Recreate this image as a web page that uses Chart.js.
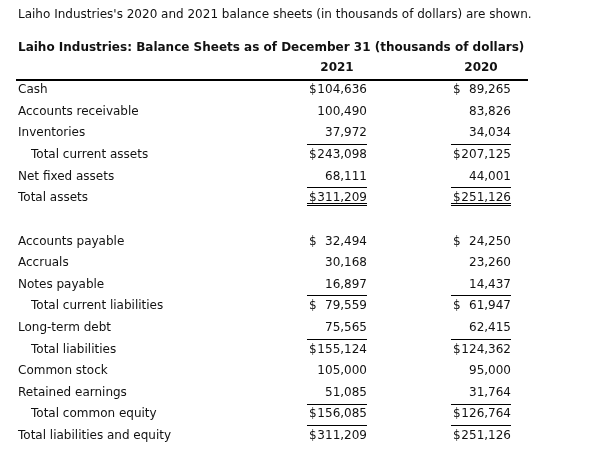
<!DOCTYPE html>
<html>
<head>
<meta charset="utf-8">
<script src="https://cdn.jsdelivr.net/npm/chart.js@4/dist/chart.umd.min.js"></script>
<style>
  html, body { margin: 0; padding: 0; background: #fff; }
  #wrap { width: 602px; height: 455px; }
</style>
</head>
<body>
<div id="wrap"><canvas id="sheet" width="602" height="455"></canvas></div>
<script>
'use strict';

/* ---------- data ---------- */
const introText = "Laiho Industries's 2020 and 2021 balance sheets (in thousands of dollars) are shown.";
const tableTitle = 'Laiho Industries: Balance Sheets as of December 31 (thousands of dollars)';
const years = ['2021', '2020'];
const rowLabels = [
  'Cash', 'Accounts receivable', 'Inventories', 'Total current assets', 'Net fixed assets', 'Total assets',
  '',
  'Accounts payable', 'Accruals', 'Notes payable', 'Total current liabilities', 'Long-term debt',
  'Total liabilities', 'Common stock', 'Retained earnings', 'Total common equity', 'Total liabilities and equity'
];
const values2021 = [104636, 100490, 37972, 243098, 68111, 311209, null,
  32494, 30168, 16897, 79559, 75565, 155124, 105000, 51085, 156085, 311209];
const values2020 = [89265, 83826, 34034, 207125, 44001, 251126, null,
  24250, 23260, 14437, 61947, 62415, 124362, 95000, 31764, 126764, 251126];
const subtotalRows = ['Total current assets', 'Total current liabilities', 'Total liabilities', 'Total common equity'];
const dollarRows = ['Cash', 'Total current assets', 'Total assets', 'Accounts payable',
  'Total current liabilities', 'Total liabilities', 'Total common equity', 'Total liabilities and equity'];
const ruleAboveRows = ['Total current assets', 'Total assets', 'Total current liabilities',
  'Total liabilities', 'Total common equity', 'Total liabilities and equity'];
const doubleRuleRows = ['Total assets'];

/* ---------- drawing ---------- */
const FONT = '"DejaVu Sans", Verdana, sans-serif';
const INK = '#111';
const CELL_W = 60;

const tablePlugin = {
  id: 'balanceTable',
  afterDatasetsDraw(chart) {
    const ctx = chart.ctx;
    const xs = chart.scales.x, ys = chart.scales.y;
    const area = chart.chartArea;
    ctx.save();
    ctx.fillStyle = INK;
    ctx.strokeStyle = '#000';
    ctx.textBaseline = 'middle';

    ctx.font = '12px ' + FONT;
    ctx.textAlign = 'left';
    ctx.fillText(introText, 18, 15);

    ctx.font = 'bold 12px ' + FONT;
    ctx.fillText(tableTitle, 18, 48);

    // column headers
    ctx.textAlign = 'center';
    years.forEach((yr, j) => {
      const right = xs.getPixelForValue(j + 1);
      ctx.fillText(yr, right - CELL_W / 2, 68);
    });
    ctx.lineWidth = 2;
    ctx.beginPath();
    ctx.moveTo(area.left, 80); ctx.lineTo(area.right, 80);
    ctx.stroke();

    // row labels
    ctx.font = '12px ' + FONT;
    ctx.textAlign = 'left';
    rowLabels.forEach((lab, i) => {
      if (!lab) return;
      const x = subtotalRows.includes(lab) ? 31 : 18;
      ctx.fillText(lab, x, ys.getPixelForValue(i));
    });

    // cells
    ctx.lineWidth = 1;
    chart.data.datasets.forEach((ds, j) => {
      const meta = chart.getDatasetMeta(j);
      meta.data.forEach((el, i) => {
        const v = ds.data[i].v;
        if (v == null) return;
        const lab = rowLabels[i];
        const right = el.x, left = el.x - CELL_W;
        ctx.textAlign = 'right';
        ctx.fillText(v.toLocaleString('en-US'), right, el.y);
        if (dollarRows.includes(lab)) {
          ctx.textAlign = 'left';
          ctx.fillText('$', left + 2, el.y);
        }
        if (ruleAboveRows.includes(lab)) {
          const ry = Math.round((ys.getPixelForValue(i - 1) + el.y) / 2) + 0.5;
          ctx.beginPath(); ctx.moveTo(left, ry); ctx.lineTo(right, ry); ctx.stroke();
        }
        if (doubleRuleRows.includes(lab)) {
          [5, 7].forEach(d => {
            const ry = Math.round(el.y + d) + 0.5;
            ctx.beginPath(); ctx.moveTo(left, ry); ctx.lineTo(right, ry); ctx.stroke();
          });
        }
      });
    });
    ctx.restore();
  }
};

new Chart(document.getElementById('sheet'), {
  type: 'scatter',
  data: {
    datasets: [values2021, values2020].map((vals, j) => ({
      label: years[j],
      data: vals.map((v, i) => ({ x: j + 1, y: i, v: v })),
      pointRadius: 0,
      showLine: false
    }))
  },
  options: {
    responsive: false,
    animation: false,
    events: [],
    layout: { padding: { left: 16, right: 74, top: 79.2, bottom: 8.2 } },
    plugins: { legend: { display: false }, tooltip: { enabled: false } },
    scales: {
      x: { type: 'linear', display: false, min: -1.4375, max: 2.1181 },
      y: { type: 'category', labels: rowLabels, offset: true, display: false }
    }
  },
  plugins: [tablePlugin]
});
</script>
</body>
</html>
